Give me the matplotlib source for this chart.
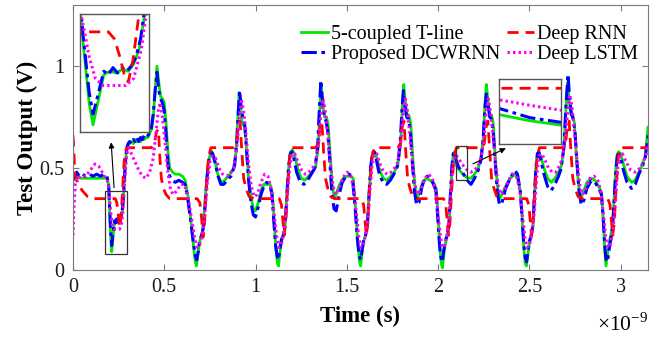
import numpy as np
import matplotlib
matplotlib.use('Agg')
import matplotlib.pyplot as plt
from matplotlib.patches import Rectangle

# === DATA: (time in ns, output in V) ===
tline = np.array([
    (0.000, 0.46), (0.010, 0.44), (0.020, 0.46), (0.040, 0.45), (0.060, 0.45), (0.080, 0.45),
    (0.100, 0.45), (0.130, 0.45), (0.160, 0.45), (0.185, 0.45), (0.195, 0.42), (0.200, 0.30),
    (0.207, 0.15), (0.212, 0.09), (0.218, 0.15), (0.226, 0.23), (0.234, 0.24), (0.242, 0.235),
    (0.250, 0.245), (0.258, 0.24), (0.265, 0.26), (0.272, 0.30), (0.278, 0.38), (0.285, 0.50),
    (0.293, 0.59), (0.300, 0.61), (0.310, 0.62), (0.320, 0.63), (0.330, 0.62), (0.340, 0.64),
    (0.350, 0.63), (0.360, 0.64), (0.370, 0.63), (0.380, 0.65), (0.390, 0.64), (0.400, 0.65),
    (0.410, 0.65), (0.420, 0.67), (0.430, 0.69), (0.440, 0.75), (0.450, 0.88), (0.460, 1.00),
    (0.470, 0.92), (0.480, 0.85), (0.490, 0.84), (0.500, 0.82), (0.510, 0.72), (0.520, 0.58),
    (0.530, 0.50), (0.545, 0.48), (0.560, 0.47), (0.580, 0.47), (0.600, 0.46), (0.615, 0.44),
    (0.630, 0.36), (0.645, 0.25), (0.660, 0.12), (0.670, 0.04), (0.676, 0.02), (0.683, 0.07),
    (0.692, 0.13), (0.700, 0.16), (0.710, 0.19), (0.720, 0.30), (0.730, 0.42), (0.740, 0.52),
    (0.752, 0.57), (0.762, 0.58), (0.775, 0.55), (0.790, 0.48), (0.805, 0.44), (0.820, 0.43),
    (0.840, 0.45), (0.860, 0.47), (0.880, 0.50), (0.893, 0.58), (0.903, 0.75), (0.910, 0.87),
    (0.918, 0.80), (0.926, 0.72), (0.935, 0.71), (0.942, 0.70), (0.950, 0.60), (0.962, 0.45),
    (0.975, 0.36), (0.988, 0.30), (1.000, 0.29), (1.015, 0.33), (1.030, 0.39), (1.045, 0.42),
    (1.060, 0.42), (1.080, 0.42), (1.092, 0.38), (1.102, 0.24), (1.112, 0.10), (1.120, 0.03),
    (1.126, 0.02), (1.133, 0.08), (1.142, 0.14), (1.152, 0.17), (1.162, 0.22), (1.172, 0.38),
    (1.182, 0.51), (1.192, 0.58), (1.202, 0.59), (1.215, 0.56), (1.230, 0.50), (1.250, 0.45),
    (1.270, 0.44), (1.290, 0.46), (1.310, 0.48), (1.330, 0.51), (1.343, 0.60), (1.352, 0.78),
    (1.360, 0.90), (1.368, 0.82), (1.378, 0.75), (1.388, 0.75), (1.397, 0.72), (1.408, 0.58),
    (1.420, 0.42), (1.432, 0.35), (1.445, 0.38), (1.460, 0.42), (1.480, 0.45), (1.500, 0.46),
    (1.520, 0.46), (1.535, 0.45), (1.548, 0.30), (1.560, 0.13), (1.570, 0.04), (1.576, 0.02),
    (1.583, 0.08), (1.592, 0.14), (1.602, 0.17), (1.612, 0.22), (1.622, 0.38), (1.632, 0.51),
    (1.642, 0.58), (1.652, 0.58), (1.665, 0.55), (1.680, 0.49), (1.700, 0.45), (1.720, 0.44),
    (1.740, 0.46), (1.760, 0.48), (1.780, 0.52), (1.795, 0.62), (1.804, 0.80), (1.812, 0.91),
    (1.820, 0.83), (1.830, 0.76), (1.840, 0.76), (1.850, 0.72), (1.860, 0.57), (1.872, 0.42),
    (1.884, 0.35), (1.898, 0.38), (1.915, 0.43), (1.935, 0.45), (1.955, 0.44), (1.975, 0.43),
    (1.990, 0.40), (2.000, 0.26), (2.010, 0.10), (2.018, 0.03), (2.024, 0.01), (2.031, 0.07),
    (2.040, 0.13), (2.050, 0.17), (2.060, 0.22), (2.068, 0.36), (2.076, 0.50), (2.084, 0.57),
    (2.090, 0.58), (2.100, 0.515), (2.1125, 0.495), (2.125, 0.481), (2.140, 0.465), (2.160, 0.452),
    (2.180, 0.45), (2.200, 0.47), (2.220, 0.50), (2.235, 0.55), (2.248, 0.65), (2.257, 0.82),
    (2.265, 0.91), (2.273, 0.83), (2.283, 0.76), (2.293, 0.76), (2.302, 0.72), (2.312, 0.57),
    (2.324, 0.42), (2.336, 0.35), (2.350, 0.37), (2.370, 0.41), (2.395, 0.45), (2.420, 0.47),
    (2.435, 0.45), (2.450, 0.39), (2.460, 0.26), (2.470, 0.10), (2.478, 0.03), (2.484, 0.02),
    (2.491, 0.07), (2.500, 0.13), (2.510, 0.17), (2.520, 0.22), (2.528, 0.36), (2.536, 0.50),
    (2.544, 0.57), (2.552, 0.58), (2.565, 0.55), (2.580, 0.50), (2.600, 0.45), (2.620, 0.43),
    (2.640, 0.45), (2.660, 0.48), (2.675, 0.51), (2.690, 0.60), (2.700, 0.78), (2.710, 0.92),
    (2.718, 0.83), (2.728, 0.76), (2.738, 0.76), (2.747, 0.72), (2.757, 0.57), (2.769, 0.42),
    (2.781, 0.35), (2.795, 0.38), (2.815, 0.43), (2.840, 0.45), (2.860, 0.44), (2.880, 0.41),
    (2.895, 0.38), (2.905, 0.24), (2.913, 0.10), (2.920, 0.02), (2.927, 0.07), (2.936, 0.13),
    (2.946, 0.17), (2.956, 0.22), (2.965, 0.36), (2.974, 0.50), (2.982, 0.57), (2.990, 0.58),
    (3.000, 0.57), (3.015, 0.52), (3.035, 0.46), (3.060, 0.43), (3.080, 0.44), (3.100, 0.48),
    (3.120, 0.52), (3.135, 0.56), (3.150, 0.70),
])

dcwrnn = np.array([
    (0.000, 0.47), (0.010, 0.45), (0.020, 0.48), (0.035, 0.46), (0.050, 0.47), (0.070, 0.46),
    (0.090, 0.47), (0.110, 0.46), (0.130, 0.47), (0.150, 0.46), (0.170, 0.47), (0.185, 0.46),
    (0.195, 0.43), (0.200, 0.32), (0.207, 0.18), (0.212, 0.12), (0.218, 0.17), (0.226, 0.24),
    (0.232, 0.23), (0.238, 0.25), (0.244, 0.235), (0.250, 0.25), (0.256, 0.24), (0.262, 0.255),
    (0.268, 0.28), (0.274, 0.33), (0.280, 0.42), (0.287, 0.53), (0.295, 0.60), (0.302, 0.62),
    (0.310, 0.63), (0.320, 0.62), (0.330, 0.64), (0.340, 0.63), (0.350, 0.65), (0.360, 0.63),
    (0.370, 0.65), (0.380, 0.64), (0.390, 0.66), (0.400, 0.65), (0.410, 0.66), (0.420, 0.67),
    (0.430, 0.70), (0.440, 0.77), (0.450, 0.88), (0.460, 0.97), (0.470, 0.88), (0.480, 0.84),
    (0.490, 0.82), (0.500, 0.78), (0.510, 0.66), (0.520, 0.52), (0.530, 0.46), (0.545, 0.44),
    (0.560, 0.43), (0.580, 0.44), (0.600, 0.43), (0.615, 0.42), (0.630, 0.34), (0.645, 0.24),
    (0.660, 0.13), (0.670, 0.07), (0.678, 0.05), (0.686, 0.09), (0.695, 0.15), (0.705, 0.17),
    (0.715, 0.21), (0.725, 0.33), (0.735, 0.46), (0.745, 0.55), (0.755, 0.58), (0.765, 0.57),
    (0.780, 0.52), (0.795, 0.46), (0.810, 0.42), (0.825, 0.42), (0.845, 0.44), (0.865, 0.46),
    (0.885, 0.51), (0.897, 0.62), (0.906, 0.78), (0.913, 0.88), (0.921, 0.80), (0.930, 0.75),
    (0.940, 0.72), (0.950, 0.60), (0.962, 0.44), (0.975, 0.33), (0.988, 0.27), (1.000, 0.26),
    (1.015, 0.31), (1.030, 0.37), (1.045, 0.41), (1.060, 0.43), (1.078, 0.42), (1.090, 0.37),
    (1.100, 0.24), (1.110, 0.12), (1.118, 0.07), (1.125, 0.05), (1.133, 0.10), (1.142, 0.15),
    (1.152, 0.17), (1.162, 0.22), (1.172, 0.37), (1.180, 0.50), (1.190, 0.57), (1.200, 0.58),
    (1.212, 0.54), (1.225, 0.48), (1.245, 0.43), (1.265, 0.42), (1.285, 0.44), (1.305, 0.47),
    (1.325, 0.50), (1.340, 0.60), (1.350, 0.80), (1.358, 0.93), (1.366, 0.84), (1.376, 0.76),
    (1.386, 0.73), (1.396, 0.68), (1.406, 0.54), (1.418, 0.38), (1.430, 0.30), (1.442, 0.29),
    (1.458, 0.37), (1.475, 0.43), (1.495, 0.46), (1.515, 0.47), (1.532, 0.44), (1.546, 0.30),
    (1.558, 0.15), (1.568, 0.07), (1.576, 0.05), (1.584, 0.10), (1.593, 0.15), (1.603, 0.17),
    (1.613, 0.22), (1.622, 0.37), (1.630, 0.50), (1.640, 0.57), (1.650, 0.58), (1.662, 0.54),
    (1.678, 0.47), (1.698, 0.43), (1.718, 0.42), (1.738, 0.44), (1.758, 0.47), (1.778, 0.51),
    (1.792, 0.62), (1.802, 0.78), (1.810, 0.88), (1.818, 0.81), (1.828, 0.75), (1.838, 0.74),
    (1.848, 0.68), (1.858, 0.54), (1.870, 0.39), (1.882, 0.32), (1.895, 0.33), (1.912, 0.41),
    (1.932, 0.46), (1.950, 0.46), (1.970, 0.43), (1.988, 0.39), (1.998, 0.26), (2.008, 0.12),
    (2.016, 0.06), (2.023, 0.04), (2.030, 0.09), (2.039, 0.14), (2.049, 0.17), (2.059, 0.22),
    (2.067, 0.36), (2.075, 0.50), (2.083, 0.57), (2.090, 0.58), (2.100, 0.535), (2.1125, 0.505),
    (2.125, 0.490), (2.140, 0.47), (2.160, 0.44), (2.180, 0.42), (2.200, 0.45), (2.220, 0.49),
    (2.235, 0.54), (2.248, 0.66), (2.257, 0.80), (2.265, 0.87), (2.273, 0.81), (2.283, 0.75),
    (2.293, 0.74), (2.302, 0.68), (2.312, 0.54), (2.324, 0.39), (2.336, 0.32), (2.350, 0.33),
    (2.370, 0.40), (2.395, 0.45), (2.420, 0.49), (2.435, 0.47), (2.450, 0.39), (2.460, 0.26),
    (2.470, 0.12), (2.478, 0.06), (2.485, 0.04), (2.492, 0.09), (2.500, 0.14), (2.510, 0.17),
    (2.520, 0.22), (2.528, 0.37), (2.536, 0.50), (2.544, 0.57), (2.552, 0.58), (2.565, 0.53),
    (2.580, 0.47), (2.600, 0.41), (2.620, 0.39), (2.640, 0.42), (2.660, 0.46), (2.675, 0.50),
    (2.690, 0.61), (2.700, 0.80), (2.712, 0.96), (2.720, 0.85), (2.730, 0.77), (2.740, 0.74),
    (2.750, 0.68), (2.760, 0.54), (2.772, 0.39), (2.784, 0.32), (2.798, 0.34), (2.815, 0.40),
    (2.840, 0.44), (2.860, 0.43), (2.880, 0.40), (2.895, 0.37), (2.905, 0.25), (2.913, 0.12),
    (2.920, 0.05), (2.928, 0.04), (2.937, 0.10), (2.946, 0.15), (2.956, 0.21), (2.965, 0.35),
    (2.974, 0.49), (2.982, 0.56), (2.990, 0.57), (3.000, 0.55), (3.015, 0.49), (3.035, 0.43),
    (3.060, 0.40), (3.080, 0.42), (3.100, 0.47), (3.120, 0.51), (3.135, 0.55), (3.150, 0.66),
])

deep_rnn = np.array([
    (0.000, 0.66), (0.004, 0.60), (0.010, 0.47), (0.025, 0.43), (0.050, 0.39), (0.080, 0.36),
    (0.110, 0.35), (0.150, 0.35), (0.200, 0.35), (0.232, 0.35), (0.240, 0.33), (0.247, 0.28),
    (0.254, 0.22), (0.258, 0.21), (0.264, 0.27), (0.272, 0.40), (0.280, 0.53), (0.290, 0.59),
    (0.300, 0.60), (0.350, 0.60), (0.400, 0.60), (0.430, 0.60), (0.445, 0.62), (0.458, 0.68),
    (0.468, 0.69), (0.476, 0.55), (0.484, 0.45), (0.495, 0.40), (0.510, 0.37), (0.530, 0.35),
    (0.600, 0.35), (0.680, 0.35), (0.695, 0.33), (0.705, 0.25), (0.712, 0.16), (0.720, 0.22),
    (0.730, 0.40), (0.742, 0.55), (0.755, 0.60), (0.800, 0.60), (0.880, 0.60), (0.895, 0.62),
    (0.905, 0.70), (0.915, 0.73), (0.925, 0.58), (0.935, 0.45), (0.948, 0.40), (0.965, 0.36),
    (0.990, 0.35), (1.060, 0.35), (1.130, 0.35), (1.142, 0.32), (1.150, 0.24), (1.157, 0.17),
    (1.165, 0.23), (1.175, 0.40), (1.187, 0.55), (1.200, 0.60), (1.250, 0.60), (1.330, 0.60),
    (1.343, 0.62), (1.353, 0.70), (1.363, 0.73), (1.373, 0.58), (1.383, 0.45), (1.396, 0.40),
    (1.412, 0.36), (1.435, 0.35), (1.510, 0.35), (1.580, 0.35), (1.592, 0.32), (1.600, 0.24),
    (1.607, 0.17), (1.615, 0.23), (1.625, 0.40), (1.637, 0.55), (1.650, 0.60), (1.700, 0.60),
    (1.780, 0.60), (1.793, 0.62), (1.803, 0.70), (1.813, 0.73), (1.823, 0.58), (1.833, 0.45),
    (1.846, 0.40), (1.862, 0.36), (1.885, 0.35), (1.960, 0.35), (2.030, 0.35), (2.042, 0.32),
    (2.050, 0.24), (2.057, 0.17), (2.065, 0.23), (2.075, 0.40), (2.087, 0.55), (2.100, 0.60),
    (2.150, 0.60), (2.240, 0.60), (2.253, 0.62), (2.263, 0.70), (2.273, 0.73), (2.283, 0.58),
    (2.293, 0.45), (2.306, 0.40), (2.322, 0.36), (2.345, 0.35), (2.410, 0.35), (2.485, 0.35),
    (2.497, 0.32), (2.505, 0.24), (2.512, 0.17), (2.520, 0.23), (2.530, 0.40), (2.542, 0.55),
    (2.555, 0.60), (2.600, 0.60), (2.685, 0.60), (2.698, 0.62), (2.708, 0.70), (2.718, 0.73),
    (2.728, 0.58), (2.738, 0.45), (2.751, 0.40), (2.767, 0.36), (2.790, 0.35), (2.860, 0.35),
    (2.930, 0.35), (2.942, 0.32), (2.950, 0.24), (2.957, 0.17), (2.965, 0.23), (2.975, 0.40),
    (2.987, 0.55), (3.000, 0.60), (3.080, 0.60), (3.150, 0.60),
])

deep_lstm = np.array([
    (0.000, 0.17), (0.005, 0.30), (0.012, 0.42), (0.025, 0.46), (0.045, 0.45), (0.070, 0.46),
    (0.095, 0.49), (0.120, 0.52), (0.140, 0.51), (0.160, 0.48), (0.180, 0.45), (0.193, 0.43),
    (0.200, 0.36), (0.207, 0.28), (0.215, 0.22), (0.225, 0.20), (0.240, 0.20), (0.255, 0.20),
    (0.265, 0.22), (0.275, 0.30), (0.285, 0.46), (0.295, 0.57), (0.305, 0.60), (0.320, 0.57),
    (0.340, 0.53), (0.360, 0.49), (0.380, 0.46), (0.400, 0.45), (0.420, 0.48), (0.440, 0.55),
    (0.455, 0.68), (0.468, 0.79), (0.478, 0.82), (0.490, 0.75), (0.505, 0.62), (0.520, 0.48),
    (0.535, 0.39), (0.550, 0.37), (0.570, 0.39), (0.590, 0.42), (0.610, 0.42), (0.630, 0.36),
    (0.650, 0.25), (0.668, 0.15), (0.682, 0.11), (0.696, 0.13), (0.710, 0.18), (0.722, 0.28),
    (0.735, 0.42), (0.750, 0.53), (0.765, 0.56), (0.780, 0.55), (0.800, 0.50), (0.820, 0.47),
    (0.840, 0.46), (0.860, 0.47), (0.880, 0.50), (0.895, 0.58), (0.910, 0.72), (0.922, 0.84),
    (0.935, 0.78), (0.948, 0.66), (0.962, 0.52), (0.977, 0.41), (0.992, 0.36), (1.010, 0.37),
    (1.030, 0.43), (1.050, 0.47), (1.068, 0.46), (1.085, 0.40), (1.100, 0.29), (1.115, 0.17),
    (1.128, 0.11), (1.140, 0.12), (1.152, 0.17), (1.164, 0.25), (1.176, 0.38), (1.188, 0.51),
    (1.200, 0.57), (1.215, 0.57), (1.232, 0.53), (1.252, 0.49), (1.272, 0.47), (1.292, 0.48),
    (1.312, 0.50), (1.330, 0.53), (1.345, 0.62), (1.358, 0.76), (1.370, 0.84), (1.382, 0.78),
    (1.395, 0.67), (1.410, 0.52), (1.425, 0.41), (1.440, 0.37), (1.458, 0.40), (1.478, 0.45),
    (1.500, 0.48), (1.520, 0.47), (1.538, 0.40), (1.552, 0.28), (1.566, 0.16), (1.578, 0.11),
    (1.590, 0.12), (1.602, 0.17), (1.614, 0.25), (1.626, 0.38), (1.638, 0.51), (1.650, 0.57),
    (1.664, 0.57), (1.682, 0.52), (1.702, 0.48), (1.722, 0.47), (1.742, 0.48), (1.762, 0.50),
    (1.780, 0.53), (1.795, 0.62), (1.808, 0.76), (1.820, 0.84), (1.832, 0.78), (1.845, 0.67),
    (1.860, 0.52), (1.875, 0.41), (1.890, 0.37), (1.908, 0.40), (1.928, 0.45), (1.948, 0.47),
    (1.968, 0.45), (1.985, 0.40), (1.998, 0.29), (2.012, 0.17), (2.024, 0.11), (2.036, 0.12),
    (2.048, 0.17), (2.060, 0.25), (2.070, 0.38), (2.080, 0.50), (2.090, 0.56), (2.100, 0.563),
    (2.1125, 0.545), (2.125, 0.529), (2.140, 0.51), (2.160, 0.49), (2.180, 0.48), (2.200, 0.49),
    (2.220, 0.51), (2.238, 0.56), (2.252, 0.66), (2.264, 0.78), (2.275, 0.84), (2.287, 0.78),
    (2.300, 0.67), (2.315, 0.52), (2.330, 0.41), (2.345, 0.37), (2.362, 0.39), (2.385, 0.44),
    (2.410, 0.47), (2.430, 0.46), (2.448, 0.39), (2.462, 0.27), (2.476, 0.16), (2.488, 0.11),
    (2.500, 0.12), (2.512, 0.17), (2.524, 0.25), (2.534, 0.38), (2.544, 0.50), (2.554, 0.56),
    (2.568, 0.57), (2.585, 0.54), (2.605, 0.50), (2.625, 0.48), (2.645, 0.48), (2.665, 0.51),
    (2.682, 0.55), (2.697, 0.64), (2.710, 0.78), (2.722, 0.86), (2.734, 0.80), (2.747, 0.68),
    (2.762, 0.53), (2.777, 0.41), (2.792, 0.37), (2.810, 0.40), (2.832, 0.45), (2.855, 0.46),
    (2.875, 0.44), (2.893, 0.38), (2.906, 0.27), (2.918, 0.16), (2.930, 0.11), (2.942, 0.12),
    (2.954, 0.17), (2.965, 0.26), (2.975, 0.39), (2.985, 0.51), (2.995, 0.56), (3.010, 0.57),
    (3.030, 0.53), (3.055, 0.49), (3.080, 0.48), (3.105, 0.50), (3.125, 0.53), (3.140, 0.57),
    (3.150, 0.62),
])

series_labels = ['5-coupled T-line', 'Proposed DCWRNN', 'Deep RNN', 'Deep LSTM']
x_ticks = [0, 0.5, 1, 1.5, 2, 2.5, 3]
y_ticks = [0, 0.5, 1]

# zoomed windows (t0, t1, v0, v1)
zoom_a = (0.195, 0.285, 0.07, 0.40)
zoom_b = (2.10, 2.125, 0.42, 0.63)
# marked boxes on the main axes (t0, t1, v0, v1)
box_a = (0.175, 0.295, 0.08, 0.39)
box_b = (2.098, 2.158, 0.44, 0.61)

# === STYLE ===
plt.rcParams['font.family'] = 'Liberation Serif'
plt.rcParams['mathtext.fontset'] = 'custom'
plt.rcParams['mathtext.rm'] = 'Liberation Serif'

styles = [
    dict(color='#00e600', ls='-', lw=2.0),
    dict(color='#0000ff', ls=(0, (5, 1.5, 1.2, 1.5)), lw=2.2),
    dict(color='#ff0000', ls=(0, (4, 2.5)), lw=2.0),
    dict(color='#ff00ff', ls=(0, (0.8, 1.0)), lw=2.2),
]
datasets = [tline, dcwrnn, deep_rnn, deep_lstm]
axis_gray = '#7a7a7a'


def draw_series(ax):
    lines = []
    for d, st, lab in zip(datasets, styles, series_labels):
        ln, = ax.plot(d[:, 0], d[:, 1], label=lab, **st)
        lines.append(ln)
    return lines


fig = plt.figure(figsize=(6.59, 3.37), dpi=100)
ax = fig.add_axes([73 / 659, 1 - 270 / 337, 575 / 659, 265 / 337])

lines = draw_series(ax)
ax.set_xlim(0, 3.15)
ax.set_ylim(0, 1.3)
ax.set_xticks(x_ticks)
ax.set_xticklabels(['0', '0.5', '1', '1.5', '2', '2.5', '3'])
ax.set_yticks(y_ticks)
ax.set_yticklabels(['0', '0.5', '1'])
ax.tick_params(direction='in', length=4, width=0.8, top=True, right=True,
               labelsize=14.5, colors=axis_gray, labelcolor='#1a1a1a', pad=6)
for sp in ax.spines.values():
    sp.set_color(axis_gray)
    sp.set_linewidth(0.8)

ax.set_xlabel('Time (s)', fontsize=16.5, fontweight='bold', labelpad=6)
ax.set_ylabel('Test Output (V)', fontsize=16.5, fontweight='bold', labelpad=1)
fig.text(648 / 659, 1 - 331 / 337, r'$\times$10$^{\mathregular{-9}}$',
         ha='right', va='baseline', fontsize=15.5)

# boxes marking the zoomed windows
for b in (box_a, box_b):
    ax.add_patch(Rectangle((b[0], b[2]), b[1] - b[0], b[3] - b[2],
                           fill=False, ec='#333333', lw=0.9, zorder=5))

ax.annotate('', xy=(0.208, 0.64), xytext=(0.226, 0.39),
            arrowprops=dict(arrowstyle='-|>', color='k', lw=0.8, mutation_scale=8))
ax.annotate('', xy=(2.385, 0.603), xytext=(2.177, 0.515),
            arrowprops=dict(arrowstyle='-|>', color='k', lw=0.8, mutation_scale=8))

# legend: two columns, no frame
leg = ax.legend(lines, series_labels,
                ncol=2, frameon=False, fontsize=14.5, loc='upper left',
                bbox_to_anchor=(301 / 659, 1 - 25 / 337), bbox_transform=fig.transFigure,
                borderaxespad=0, borderpad=0, handlelength=1.35, handletextpad=0.15,
                columnspacing=0.3, labelspacing=0.05)

# inset axes
for rect, z in [((80 / 659, 1 - 132 / 337, 69 / 659, 118 / 337), zoom_a),
                ((499 / 659, 1 - 144 / 337, 62 / 659, 65 / 337), zoom_b)]:
    axi = fig.add_axes(rect)
    draw_series(axi)
    axi.set_xlim(z[0], z[1])
    axi.set_ylim(z[2], z[3])
    axi.set_xticks([])
    axi.set_yticks([])
    for sp in axi.spines.values():
        sp.set_color('#555555')
        sp.set_linewidth(1.0)

fig.savefig('out.png', dpi=100)
